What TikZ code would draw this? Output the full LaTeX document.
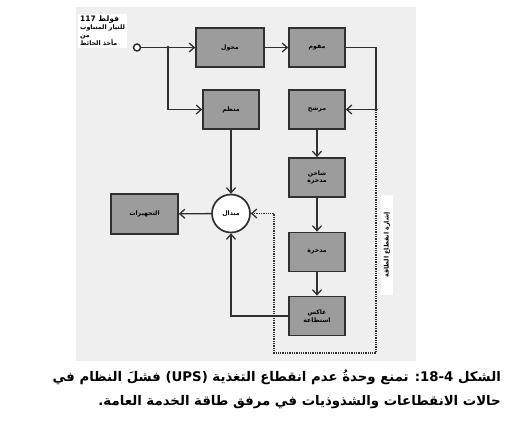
\documentclass[tikz,border=0pt]{standalone}
\usepackage{fontspec}
\newfontfamily\arabicfont[Script=Arabic]{DejaVu Sans}
\TeXXeTstate=1
\usepackage{tikz}
\usetikzlibrary{arrows.meta, positioning, calc}
\definecolor{panel}{HTML}{EFEFEF}
\definecolor{boxgray}{HTML}{9C9C9C}
\definecolor{ink}{HTML}{303030}

\begin{document}
\begin{tikzpicture}[x=1pt, y=-1pt,
    blok/.style={draw=ink, line width=1.7pt, fill=boxgray, minimum width=56pt,
                 minimum height=39pt, inner sep=0pt, align=center,
                 font=\arabicfont\bfseries\fontsize{6.2}{7.8}\selectfont},
    wire/.style={draw=ink, line width=1.3pt},
    arr/.style={wire, -{Straight Barb[length=5pt, width=9pt]}},
    sig/.style={arr, densely dotted},
    tag/.style={fill=white, inner sep=2pt, font=\arabicfont\bfseries\fontsize{6.3}{7.6}\selectfont}]
  \useasboundingbox (0,0) rectangle (510,430);
  \fill[panel] (76,7) rectangle (416,361);

  \node[blok, minimum width=68pt] (trans) at (230,47.5) {\beginR محول\endR};
  \node[blok] (rect) at (317,47.5) {\beginR مقوم\endR};
  \node[blok] (reg) at (231,109.5) {\beginR منظم\endR};
  \node[blok] (filt) at (317,109.5) {\beginR مرشح\endR};
  \node[blok] (charg) at (317,177.5) {\beginR شاحن\endR\\\beginR مدخرة\endR};
  \node[blok] (batt) at (317,252) {\beginR مدخرة\endR};
  \node[blok] (inv) at (317,316) {\beginR عاكس\endR\\\beginR استطاعة\endR};
  \node[blok, minimum width=67pt, minimum height=40pt] (equip) at (144.5,214) {\beginR التجهيزات\endR};
  \node[draw=ink, line width=1.7pt, fill=white, circle, minimum size=38pt, inner sep=0pt,
        font=\arabicfont\bfseries\fontsize{6.2}{7.8}\selectfont] (sw) at (231,213.5) {\beginR مبدال\endR};

  \node[draw=ink, line width=1.5pt, fill=white, circle, minimum size=7pt, inner sep=0pt] (inp) at (137,47.5) {};
  \node[tag, align=left, anchor=north west] (inlbl) at (78,14)
    {\fontsize{7.5}{8}\selectfont\beginR فولط \beginL117\endL\endR\\\beginR للتيار المتناوب\endR\\\beginR من\endR\\\beginR مأخذ الحائط\endR};
  \node[tag, rotate=90, inner ysep=3pt, minimum width=100pt] (siglbl) at (387,245) {\beginR إشارة انقطاع الطاقة\endR};

  \coordinate (j1) at (168,47.5);
  \coordinate (j2) at (376,109.5);
  \coordinate (sigbot) at (274,353);

  \draw[arr] (inp) -- (trans);
  \draw[arr] (j1) |- (reg);
  \draw[arr] (trans) -- (rect);
  \draw[wire] (rect.east) -| (j2);
  \draw[arr] (j2) -- (filt);
  \draw[arr] (reg) -- (sw);
  \draw[arr] (filt) -- (charg);
  \draw[arr] (charg) -- (batt);
  \draw[arr] (batt) -- (inv);
  \draw[arr] (inv.west) -| (sw.south);
  \draw[arr] (sw) -- (equip);
  \draw[sig] (j2) |- (sigbot) |- (sw.east);
  \fill[ink] (j1) circle (1.9) (j2) circle (1.9);

  \node[anchor=north east, align=right, inner sep=0pt,
        font=\arabicfont\bfseries\fontsize{13.3}{24}\selectfont] (cap) at (501,370)
    {\beginR الشكل \beginL18-4\endL: تمنع وحدةُ عدم انقطاع التغذية \beginL(UPS)\endL{} فشلَ النظام في\endR\\
     \beginR حالات الانقطاعات والشذوذيات في مرفق طاقة الخدمة العامة.\endR};
\end{tikzpicture}
\end{document}
